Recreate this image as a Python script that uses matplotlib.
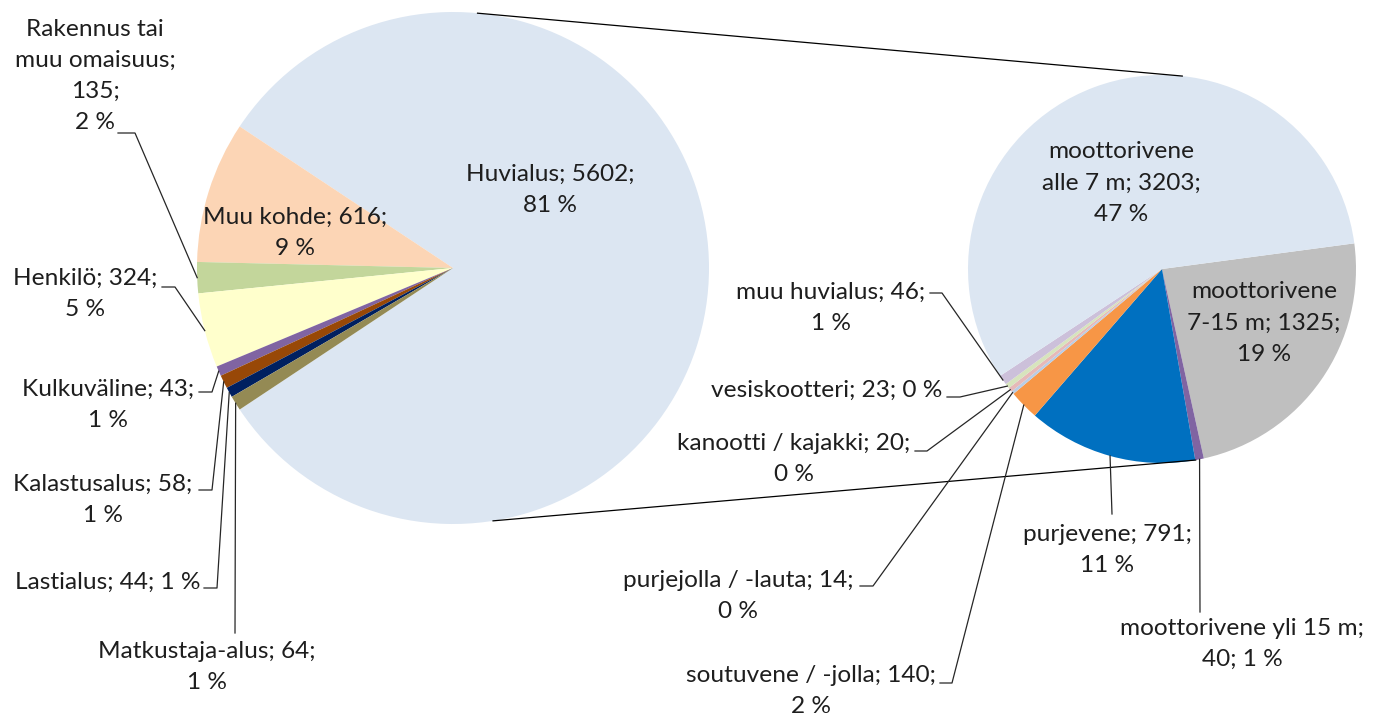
import numpy as np
import matplotlib.pyplot as plt

W, H = 1383, 718

# primary pie (left)
main_names = ["Huvialus", "Muu kohde", "Rakennus tai muu omaisuus", "Henkilö",
              "Kulkuväline", "Kalastusalus", "Lastialus", "Matkustaja-alus"]
main_values = [5602, 616, 135, 324, 43, 58, 44, 64]
main_pct = [81, 9, 2, 5, 1, 1, 1, 1]
main_colors = ["#DCE6F2", "#FCD5B5", "#C3D69B", "#FFFFCC",
               "#8064A2", "#984807", "#002060", "#948A54"]

# secondary pie (right) = breakdown of Huvialus
sub_names = ["moottorivene 7-15 m", "moottorivene yli 15 m", "purjevene",
             "soutuvene / -jolla", "purjejolla / -lauta", "kanootti / kajakki",
             "vesiskootteri", "muu huvialus", "moottorivene alle 7 m"]
sub_values = [1325, 40, 791, 140, 14, 20, 23, 46, 3203]
sub_pct = [19, 1, 11, 2, 0, 0, 0, 1, 47]
sub_colors = ["#BFBFBF", "#8064A2", "#0070C0", "#F79646", "#B9CDE5",
              "#E6B9B8", "#D7E4BD", "#CCC0DA", "#DCE6F2"]


def P(px, py):
    # pixel position (y down) -> data coords (y up)
    return px, H - py


L_C, L_R = (453, 268), 256
R_C, R_R = (1162, 269), 194

fig = plt.figure(figsize=(W / 100, H / 100), dpi=100)
ax = fig.add_axes([0, 0, 1, 1])

frac = main_values[0] / sum(main_values)
l_start = -frac * 180
ax.pie(main_values, colors=main_colors, startangle=l_start, counterclock=True,
       center=P(*L_C), radius=L_R, frame=True,
       wedgeprops=dict(linewidth=0))
r_start = 7.6
ax.pie(sub_values, colors=sub_colors, startangle=r_start, counterclock=False,
       center=P(*R_C), radius=R_R, frame=True,
       wedgeprops=dict(linewidth=0))


def mid_angles(vals, start, ccw):
    tot = float(sum(vals))
    out, a = [], start
    for v in vals:
        d = v / tot * 360
        a2 = a + d if ccw else a - d
        out.append((a + a2) / 2)
        a = a2
    return out


def edge(c, r, ang):
    x, y = P(*c)
    t = np.radians(ang)
    return x + r * np.cos(t), y + r * np.sin(t)


# connector lines between the pies
for la, ra in [(84.5, 84.0), (-81.0, -80.0)]:
    x0, y0 = edge(L_C, L_R, la)
    x1, y1 = edge(R_C, R_R, ra)
    ax.plot([x0, x1], [y0, y1], color="#000000", lw=0.9)

# label layout: template, words on first name line, text centre, leader stub
main_lay = [
    ("{n}; {v};\n{p} %", 0, (550, 190), None),
    ("{n}; {v};\n{p} %", 0, (295, 233), None),
    ("{n};\n{v};\n{p} %", 2, (95, 76), [(118, 133), (135, 133)]),
    ("{n}; {v};\n{p} %", 0, (85, 294), [(162, 287), (175, 287)]),
    ("{n}; {v};\n{p} %", 0, (108, 405), [(199, 392), (212, 392)]),
    ("{n}; {v};\n{p} %", 0, (103, 500), [(199, 490), (212, 490)]),
    ("{n}; {v}; {p} %", 0, (108, 582), [(204, 588), (217, 588)]),
    ("{n}; {v};\n{p} %", 0, (207, 667), [(235, 633)]),
]
sub_lay = [
    ("{n}; {v};\n{p} %", 1, (1264, 323), None),
    ("{n};\n{v}; {p} %", 0, (1242, 644), [(1200, 612)]),
    ("{n}; {v};\n{p} %", 0, (1107, 550), [(1112, 514)]),
    ("{n}; {v};\n{p} %", 0, (811, 691), [(940, 683), (952, 683)]),
    ("{n}; {v};\n{p} %", 0, (738, 596), [(860, 586), (873, 586)]),
    ("{n}; {v};\n{p} %", 0, (794, 459), [(915, 451), (927, 451)]),
    ("{n}; {v}; {p} %", 0, (827, 390), [(947, 397), (960, 397)]),
    ("{n}; {v};\n{p} %", 0, (831, 308), [(930, 293), (942, 293)]),
    ("{n}; {v};\n{p} %", 1, (1121, 183), None),
]


def draw_labels(names, vals, pcts, lay, c, r, start, ccw):
    mids = mid_angles(vals, start, ccw)
    for n, v, p, (tpl, nb, (tx, ty), lead), m in zip(names, vals, pcts, lay, mids):
        if nb:
            w = n.split(" ")
            n = " ".join(w[:nb]) + "\n" + " ".join(w[nb:])
        txt = tpl.format(n=n, v=v, p=p)
        ax.text(*P(tx, ty), txt, ha="center", va="center", fontsize=17.6,
                family="Lato", color="#1e1e1e", linespacing=1.6)
        if lead:
            pts = [P(*q) for q in lead] + [edge(c, r, m)]
            xs, ys = zip(*pts)
            ax.plot(xs, ys, color="#262626", lw=0.9)


draw_labels(main_names, main_values, main_pct, main_lay, L_C, L_R, l_start, True)
draw_labels(sub_names, sub_values, sub_pct, sub_lay, R_C, R_R, r_start, False)

ax.set_xlim(0, W)
ax.set_ylim(0, H)
ax.set_aspect("equal")
ax.axis("off")
fig.savefig("out.png", dpi=100)
